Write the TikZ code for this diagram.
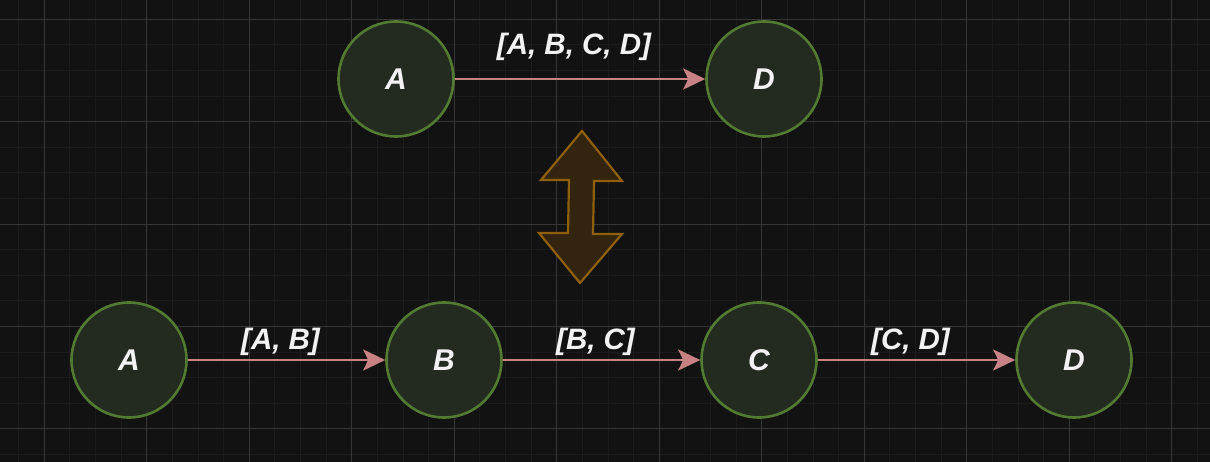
\documentclass[tikz,border=0pt]{standalone}
\usepackage{fontspec}
\setmainfont{Liberation Sans}
\usetikzlibrary{arrows.meta}
\definecolor{bgcol}{HTML}{121212}
\definecolor{gridmajor}{HTML}{363636}
\definecolor{gridminor}{HTML}{1B1B1B}
\definecolor{nodefill}{HTML}{232B21}
\definecolor{nodeline}{HTML}{527A30}
\definecolor{edgecol}{HTML}{C98283}
\definecolor{labeltext}{HTML}{F2F2F2}
\definecolor{swapfill}{HTML}{33240F}
\definecolor{swapline}{HTML}{8F5F09}

\begin{document}
\begin{tikzpicture}[x=1pt,y=-1pt,
    state/.style={circle,draw=nodeline,fill=nodefill,line width=2.6pt,minimum size=115pt,inner sep=0pt,
      font=\fontsize{30}{34}\selectfont\bfseries\itshape,text=labeltext},
    edge/.style={draw=edgecol,line width=2.6pt,-{Stealth[length=22pt,width=21pt,inset=5pt]}},
    lab/.style={inner sep=0pt,xshift=-6pt,font=\fontsize{29.5}{34}\selectfont\bfseries\itshape,text=labeltext}]
    \fill[bgcol] (0,0) rectangle (1210,462);
    \useasboundingbox (0,0) rectangle (1210,462);
    % grid
    \foreach \i in {0,...,46}
        \draw[gridminor,line width=1pt] (18.7+25.625*\i,0) -- (18.7+25.625*\i,462);
    \foreach \i in {-1,...,17}
        \draw[gridminor,line width=1pt] (0,19.3+25.6*\i) -- (1210,19.3+25.6*\i);
    \foreach \i in {0,...,11}
        \draw[gridmajor,line width=1pt] (44.3+102.5*\i,0) -- (44.3+102.5*\i,462);
    \foreach \i in {0,...,4}
        \draw[gridmajor,line width=1pt] (0,19.3+102.4*\i) -- (1210,19.3+102.4*\i);
    % direct
    \node[state] (topA) at (396,79) {A};
    \node[state] (topD) at (764,79) {D};
    \draw[edge] (topA) -- node[lab,above=17pt] {[A, B, C, D]} (topD);
    % swap arrow
    \draw[fill=swapfill,draw=swapline,line width=2.2pt,line join=miter]
        (582,131) -- (622,181) -- (594,181) -- (593,234) -- (622,234) -- (580,283)
        -- (539,233) -- (568,233) -- (569,180) -- (541,180) -- cycle;
    % chain
    \node[state] (botA) at (129,360) {A};
    \node[state] (botB) at (444,360) {B};
    \node[state] (botC) at (759,360) {C};
    \node[state] (botD) at (1074,360) {D};
    \draw[edge] (botA) -- node[lab,above=3pt] {[A, B]} (botB);
    \draw[edge] (botB) -- node[lab,above=3pt] {[B, C]} (botC);
    \draw[edge] (botC) -- node[lab,above=3pt] {[C, D]} (botD);
\end{tikzpicture}
\end{document}
